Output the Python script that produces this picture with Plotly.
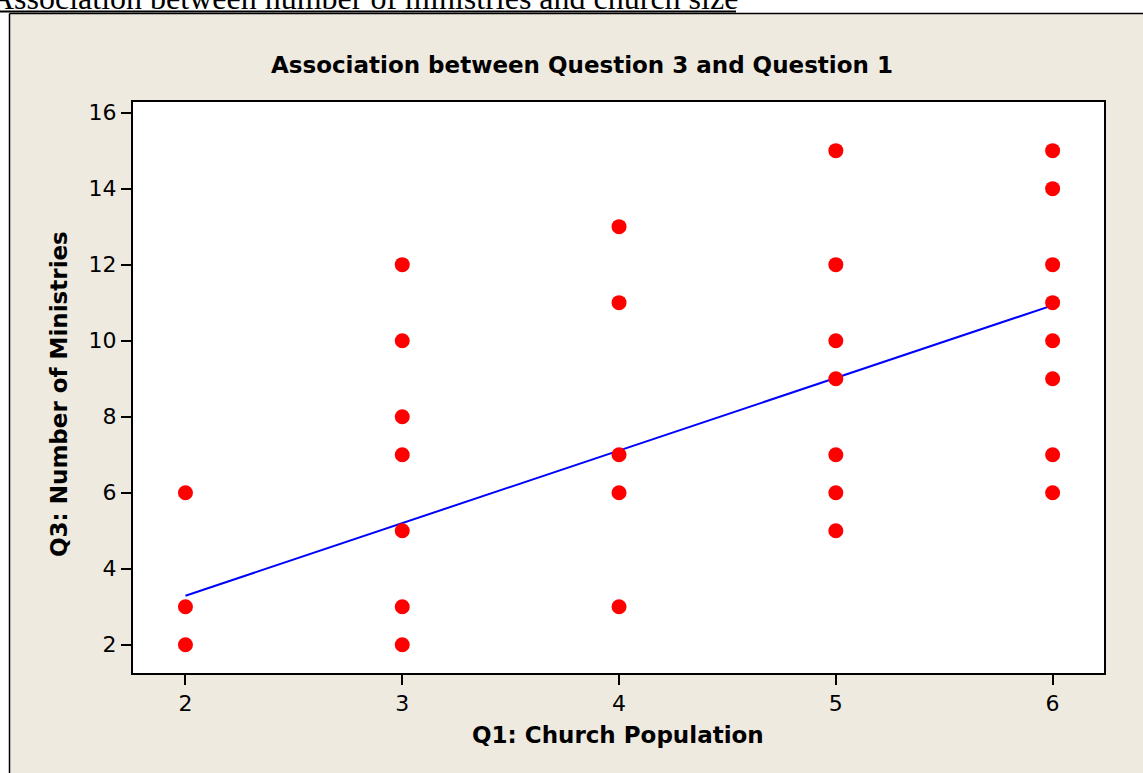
import plotly.graph_objects as go

# ---- data ----
q1_population = [2, 2, 2,
                 3, 3, 3, 3, 3, 3, 3,
                 4, 4, 4, 4, 4,
                 5, 5, 5, 5, 5, 5, 5,
                 6, 6, 6, 6, 6, 6, 6, 6]
q3_ministries = [6, 3, 2,
                 12, 10, 8, 7, 5, 3, 2,
                 13, 11, 7, 6, 3,
                 15, 12, 10, 9, 7, 6, 5,
                 15, 14, 12, 11, 10, 9, 7, 6]
fit_x = [2, 6]
fit_y = [3.29, 10.93]
x_ticks = [2, 3, 4, 5, 6]
y_ticks = [2, 4, 6, 8, 10, 12, 14, 16]

page_heading = "Association between number of ministries and church size"
chart_title = "Association between Question 3 and Question 1"
x_title = "Q1: Church Population"
y_title = "Q3: Number of Ministries"

# ---- layout geometry (pixels) ----
W, H = 1143, 773
L, R, T, B = 133, 39, 102, 100
PW, PH = W - L - R, H - T - B
BEIGE = "#EEEAE0"


def px(x):
    return (x - L) / PW


def py(y):
    return (H - B - y) / PH


fig = go.Figure()
fig.add_trace(go.Scatter(
    x=fit_x, y=fit_y, mode="lines",
    line=dict(color="#0000FF", width=2), showlegend=False, hoverinfo="skip"))
fig.add_trace(go.Scatter(
    x=q1_population, y=q3_ministries, mode="markers",
    marker=dict(color="#FF0000", size=15, line=dict(width=0)), showlegend=False))

axis_common = dict(
    showline=True, linecolor="black", linewidth=2, mirror=True,
    ticks="outside", ticklen=10, tickwidth=2, tickcolor="black",
    showgrid=False, zeroline=False,
    tickfont=dict(family="DejaVu Sans", size=22, color="black"),
)

fig.update_layout(
    width=W, height=H,
    margin=dict(l=L, r=R, t=T, b=B, pad=0),
    paper_bgcolor=BEIGE, plot_bgcolor="white",
    xaxis=dict(range=[1.758, 6.237], tickvals=x_ticks, **axis_common),
    yaxis=dict(range=[1.256, 16.28], tickvals=y_ticks, **axis_common),
    shapes=[
        # white page outside the framed box
        dict(type="rect", xref="paper", yref="paper",
             x0=px(0), x1=px(W), y0=py(0), y1=py(13.5),
             fillcolor="white", line=dict(width=0), layer="below"),
        dict(type="rect", xref="paper", yref="paper",
             x0=px(0), x1=px(9.5), y0=py(0), y1=py(H),
             fillcolor="white", line=dict(width=0), layer="below"),
        # frame lines
        dict(type="line", xref="paper", yref="paper",
             x0=px(9.5), x1=px(W), y0=py(13.5), y1=py(13.5),
             line=dict(color="black", width=1.5)),
        dict(type="line", xref="paper", yref="paper",
             x0=px(9.5), x1=px(9.5), y0=py(13.5), y1=py(H),
             line=dict(color="black", width=1.5)),
        # underline of page heading
        dict(type="line", xref="paper", yref="paper",
             x0=px(0), x1=px(736), y0=py(11.5), y1=py(11.5),
             line=dict(color="black", width=2)),
    ],
    annotations=[
        dict(text=page_heading, xref="paper", yref="paper",
             x=px(-11), y=py(-2), xanchor="left", yanchor="middle",
             showarrow=False,
             font=dict(family="Liberation Serif", size=32, color="black")),
        dict(text="<b>" + chart_title + "</b>", xref="paper", yref="paper",
             x=px(582), y=py(65), xanchor="center", yanchor="middle",
             showarrow=False,
             font=dict(family="DejaVu Sans", size=23, color="black")),
        dict(text="<b>" + x_title + "</b>", xref="paper", yref="paper",
             x=px(618), y=py(735), xanchor="center", yanchor="middle",
             showarrow=False,
             font=dict(family="DejaVu Sans", size=23, color="black")),
        dict(text="<b>" + y_title + "</b>", xref="paper", yref="paper",
             x=px(59), y=py(394), xanchor="center", yanchor="middle",
             textangle=-90, showarrow=False,
             font=dict(family="DejaVu Sans", size=23, color="black")),
    ],
)

fig.write_html(
    "out.html",
    config={"displayModeBar": False},
    post_script="document.body.style.margin='0';document.body.style.overflow='hidden';",
)
